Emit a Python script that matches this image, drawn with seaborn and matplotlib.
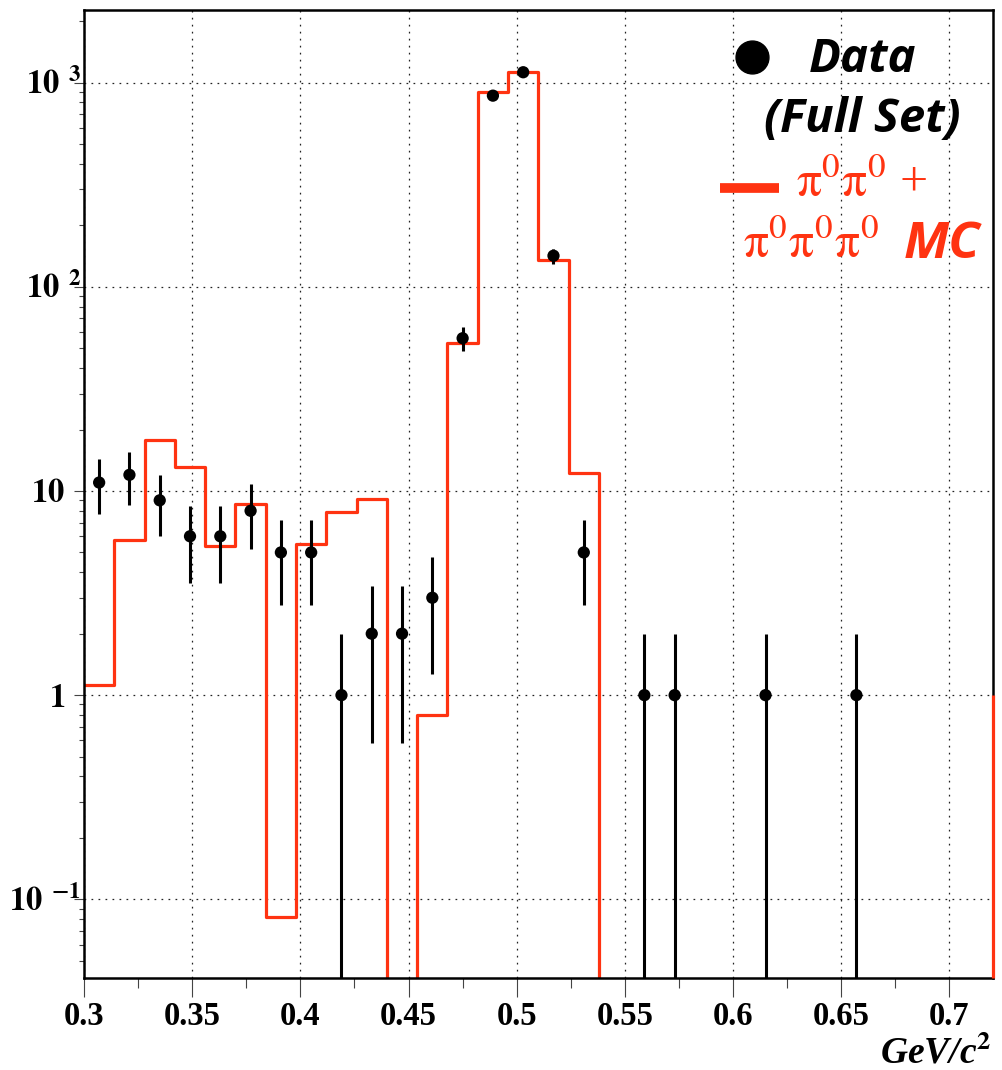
import numpy as np
import matplotlib
matplotlib.use("Agg")
import matplotlib.pyplot as plt
import matplotlib.transforms as mtransforms
from matplotlib.ticker import FixedLocator, MultipleLocator, LogLocator, NullFormatter
import seaborn as sns

# ---------------- data ----------------
BIN_LO = 0.30
BIN_HI = 0.72
N_BINS = 30

# Monte Carlo histogram (pi0pi0 + pi0pi0pi0), one value per bin
mc_values = [1.12, 5.76, 17.8, 13.1, 5.39, 8.61, 0.082, 5.51, 7.9, 9.14,
             0.0, 0.80, 52.8, 898.0, 1124.0, 136.0, 12.3, 0.0, 0.0, 0.0,
             0.0, 0.0, 0.0, 0.0, 0.0, 0.0, 0.0, 0.0, 0.0, 0.0]
mc_overflow = 1.0

# Data counts per bin (Full Set)
data_counts = [11, 12, 9, 6, 6, 8, 5, 5, 1, 2,
               2, 3, 56, 864, 1125, 142, 5, 0, 1, 1,
               0, 0, 1, 0, 0, 1, 0, 0, 0, 0]

x_ticks = [0.30, 0.35, 0.40, 0.45, 0.50, 0.55, 0.60, 0.65, 0.70]
x_tick_labels = ["0.3", "0.35", "0.4", "0.45", "0.5", "0.55", "0.6", "0.65", "0.7"]
y_ticks = [0.1, 1, 10, 100, 1000]
y_tick_base = ["10", "1", "10", "10", "10"]
y_tick_exp = ["-1", "", "", "2", "3"]

legend_data_1 = "Data"
legend_data_2 = "(Full Set)"
legend_mc_1 = r"$\mathrm{\pi^{0}\pi^{0}}$ +"
legend_mc_2a = r"$\mathrm{\pi^{0}\pi^{0}\pi^{0}}$"
legend_mc_2b = "MC"
x_unit = r"GeV/c$^{\mathbf{2}}$"

RED = "#ff3311"
FLOOR = 1e-4
Y_MIN, Y_MAX = 0.0413, 2270

# ---------------- style ----------------
sns.set_style("white")
plt.rcParams["font.family"] = ["Liberation Serif", "DejaVu Sans"]
plt.rcParams["mathtext.fontset"] = "stix"
plt.rcParams["text.color"] = "black"

W, H = 1003, 1070
fig = plt.figure(figsize=(W / 100, H / 100), dpi=100)
ax = fig.add_axes([84 / W, 1 - 977.7 / H, 908.7 / W, 967.7 / H])
ax.set_yscale("log")
ax.set_xlim(BIN_LO, BIN_HI)
ax.set_ylim(Y_MIN, Y_MAX)

edges = np.linspace(BIN_LO, BIN_HI, N_BINS + 1)
centers = 0.5 * (edges[:-1] + edges[1:])
mc = np.array(mc_values, dtype=float)
mc_draw = np.where(mc > 0, mc, FLOOR)
step_y = np.append(mc_draw, mc_draw[-1])

# grid
ax.grid(True, which="major", axis="both", color="#222222", ls=(0, (1.4, 4.2)), lw=0.9)
ax.set_axisbelow(True)

# MC histogram
sns.lineplot(x=edges, y=step_y, drawstyle="steps-post", color=RED, lw=2.3,
             estimator=None, sort=False, ax=ax, zorder=3)
ax.vlines([BIN_HI], Y_MIN, mc_overflow, color=RED, lw=2.3, zorder=6, clip_on=False)

# data points with sqrt(N) errors
cnt = np.array(data_counts, dtype=float)
m = cnt > 0
err = np.sqrt(cnt[m])
lo = np.maximum(cnt[m] - err, FLOOR)
hi = cnt[m] + err
ax.vlines(centers[m], lo, hi, color="black", lw=2.2, zorder=4)
sns.scatterplot(x=centers[m], y=cnt[m], color="black", s=78, edgecolor="none",
                ax=ax, zorder=5, legend=False)

# spines
for sp in ax.spines.values():
    sp.set_linewidth(1.8)
    sp.set_color("black")
    sp.set_zorder(5)

# x ticks
ax.xaxis.set_major_locator(FixedLocator(x_ticks))
ax.set_xticklabels(x_tick_labels, fontweight="bold", fontsize=23.5,
                   fontfamily="Liberation Serif", color="black")
ax.xaxis.set_minor_locator(MultipleLocator(0.025))
ax.tick_params(axis="x", which="major", direction="out", length=13.7, width=0.8,
               color="#444444", pad=3, bottom=True, top=False)
ax.tick_params(axis="x", which="minor", direction="out", length=7.2, width=0.8,
               color="#444444", bottom=True, top=False)

# y ticks
ax.yaxis.set_major_locator(FixedLocator(y_ticks))
ax.yaxis.set_minor_locator(LogLocator(base=10, subs=np.arange(2, 10)))
ax.yaxis.set_major_formatter(NullFormatter())
ax.yaxis.set_minor_formatter(NullFormatter())
ax.tick_params(axis="y", which="major", direction="out", length=7.2, width=0.8,
               color="#444444", left=True, right=False)
ax.tick_params(axis="y", which="minor", direction="out", length=3.6, width=0.8,
               color="#444444", left=True, right=False)

ytrans = ax.get_yaxis_transform()
for val, base, ex in zip(y_ticks, y_tick_base, y_tick_exp):
    if ex:
        s = r"$\mathbf{%s}^{\;\;\mathbf{%s}}$" % (base, ex)
        dx = -3
    else:
        s = r"$\mathbf{%s}$" % base
        dx = -19
    off = mtransforms.ScaledTranslation(dx / 100, -11.5 / 100, fig.dpi_scale_trans)
    ax.text(0, val, s, transform=ytrans + off, ha="right", va="baseline",
            fontsize=23.5, color="black")

# x unit label
fig.text(991 / W, 1 - 1063 / H, x_unit, ha="right", va="baseline",
         fontsize=27, fontweight="bold", fontstyle="italic",
         fontfamily="Liberation Serif", color="black")

# legend (drawn as in the original, inside the frame)
ax.scatter([752 / W], [1 - 57 / H], s=560, color="black", transform=fig.transFigure,
           zorder=7, clip_on=False)
fig.text(863 / W, 1 - 72 / H, legend_data_1, ha="center", va="baseline",
         fontsize=34, fontweight="bold", fontstyle="italic", fontfamily="Open Sans",
         color="black")
fig.text(862 / W, 1 - 132 / H, legend_data_2, ha="center", va="baseline",
         fontsize=34, fontweight="bold", fontstyle="italic", fontfamily="Open Sans",
         color="black")
fig.add_artist(plt.Line2D([720 / W, 779 / W], [1 - 188 / H, 1 - 188 / H],
                          color=RED, lw=7, solid_capstyle="butt",
                          transform=fig.transFigure))
fig.text(862 / W, 1 - 197 / H, legend_mc_1, ha="center", va="baseline",
         fontsize=36, color=RED, fontfamily="Liberation Serif")
fig.text(743 / W, 1 - 258 / H, legend_mc_2a, ha="left", va="baseline",
         fontsize=36, color=RED, fontfamily="Liberation Serif")
fig.text(980 / W, 1 - 258 / H, legend_mc_2b, ha="right", va="baseline",
         fontsize=37, fontweight="bold", fontstyle="italic", fontfamily="Open Sans",
         color=RED)

fig.savefig("out.png", dpi=100)
